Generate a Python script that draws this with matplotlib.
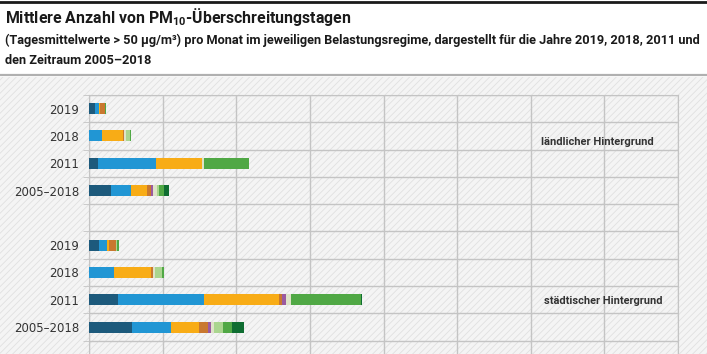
import numpy as np
import matplotlib.pyplot as plt
from matplotlib.patches import Rectangle
from matplotlib.lines import Line2D

plt.rcParams['font.family'] = ['Roboto', 'DejaVu Sans']
plt.rcParams['mathtext.fontset'] = 'custom'
plt.rcParams['mathtext.rm'] = 'Roboto'
plt.rcParams['hatch.linewidth'] = 0.6

# Zeilen: ländlicher Hintergrund (4), städtischer Hintergrund (4)
rows = ['2019', '2018', '2011', '2005–2018', '2019', '2018', '2011', '2005–2018']
ypos = [0, 1, 2, 3, 5, 6, 7, 8]

months = ['Jan', 'Feb', 'Mär', 'Apr', 'Mai', 'Jun', 'Jul', 'Aug', 'Sep', 'Okt', 'Nov', 'Dez']
jan = [0.75, 0.0, 1.26, 2.99, 1.36, 0.0, 3.9, 5.9]
feb = [0.6, 1.8, 7.8, 2.72, 1.14, 3.44, 11.73, 5.2]
mar = [0.2, 2.77, 6.33, 2.13, 0.22, 4.98, 10.23, 3.85]
apr = [0.6, 0.22, 0.0, 0.54, 0.9, 0.31, 0.33, 1.22]
mai = [0.0, 0.0, 0.0, 0.27, 0.0, 0.0, 0.58, 0.46]
jun = [0.0, 0.0, 0.0, 0.0, 0.0, 0.0, 0.0, 0.0]
jul = [0.0, 0.0, 0.0, 0.0, 0.0, 0.0, 0.0, 0.0]
aug = [0.0, 0.0, 0.0, 0.0, 0.0, 0.0, 0.0, 0.0]
sep = [0.0, 0.3, 0.27, 0.54, 0.0, 0.3, 0.64, 0.31]
okt = [0.0, 0.45, 0.0, 0.31, 0.22, 0.95, 0.0, 1.27]
nov = [0.15, 0.23, 6.07, 0.72, 0.22, 0.22, 9.51, 1.27]
dez = [0.0, 0.0, 0.0, 0.68, 0.0, 0.0, 0.1, 1.58]

werte = [jan, feb, mar, apr, mai, jun, jul, aug, sep, okt, nov, dez]
farben = ['#1d5a7c', '#2196d4', '#f8ac16', '#c9782f', '#9b5aa0', '#d9b3d9',
          '#efe2c4', '#e9e4cc', '#dfe3c8', '#aad58f', '#50a845', '#0f6d31']

W, H = 707, 354
fig = plt.figure(figsize=(W / 100, H / 100), dpi=100)

# Hintergrund schraffiert
bg_top = 77
fig.add_artist(Rectangle((0, 0), 1, 1 - bg_top / H, transform=fig.transFigure,
                         facecolor='#f4f4f4', edgecolor='#e0e0e0', hatch='/////',
                         lw=0, zorder=-10))
fig.add_artist(Line2D([0, 1], [1 - 2 / H] * 2, color='#1a1a1a', lw=2))
fig.add_artist(Line2D([0, 1], [1 - 75 / H] * 2, color='#b0b0b0', lw=1.6))

t1 = fig.text(5 / W, 1 - 17 / H, r'Mittlere Anzahl von PM$_{\mathregular{10}}$-Überschreitungstagen',
              fontsize=11.5, fontweight='bold', color='#1a1a1a', va='center')
t2 = fig.text(5 / W, 1 - 40 / H,
              '(Tagesmittelwerte > 50 µg/m³) pro Monat im jeweiligen Belastungsregime, '
              'dargestellt für die Jahre 2019, 2018, 2011 und',
              fontsize=10, fontweight='bold', color='#1a1a1a', va='center')
t3 = fig.text(5 / W, 1 - 60 / H, 'den Zeitraum 2005–2018',
              fontsize=10, fontweight='bold', color='#1a1a1a', va='center')

ax_top, band = 95, 27.3
ax_bot = ax_top + 10 * band
ax = fig.add_axes([89 / W, 1 - ax_bot / H, (678 - 89) / W, 10 * band / H])
ax.set_facecolor('none')

left = np.zeros(len(rows))
for m, v, c in zip(months, werte, farben):
    ax.barh(ypos, v, left=left, height=0.4, color=c, label=m, zorder=3)
    left += np.array(v)

ax.set_xlim(0, 80)
ax.set_ylim(9.5, -0.5)
ax.set_xticks(np.arange(0, 81, 10))
ax.set_yticks(ypos)
ax.set_yticklabels(rows, family='DejaVu Sans', fontsize=8.5, color='#333333')
ax.set_yticks(np.arange(-0.5, 10, 1), minor=True)
ax.tick_params(axis='y', which='major', length=0, pad=7)
ax.tick_params(axis='y', which='minor', length=4, color='#c4c4c4')
ax.tick_params(axis='x', length=0, labelbottom=False)
ax.grid(True, axis='x', which='major', color='#c4c4c4', lw=1, zorder=1)
ax.grid(True, axis='y', which='minor', color='#c4c4c4', lw=1, zorder=1)
for s in ax.spines.values():
    s.set_color('#c4c4c4')

a1 = ax.text(61.4, 1.22, 'ländlicher Hintergrund', fontsize=8, fontweight='bold',
             color='#333333', va='center')
a2 = ax.text(61.8, 7.05, 'städtischer Hintergrund', fontsize=8, fontweight='bold',
             color='#333333', va='center')

# Schriftgröße an die Breite im Original anpassen
r = fig.canvas.get_renderer()
for t, w in [(t1, 347), (t2, 700), (a1, 113), (a2, 118)]:
    t.set_fontsize(t.get_fontsize() * w / t.get_window_extent(r).width)
t3.set_fontsize(t2.get_fontsize())

fig.savefig('out.png', dpi=100)
